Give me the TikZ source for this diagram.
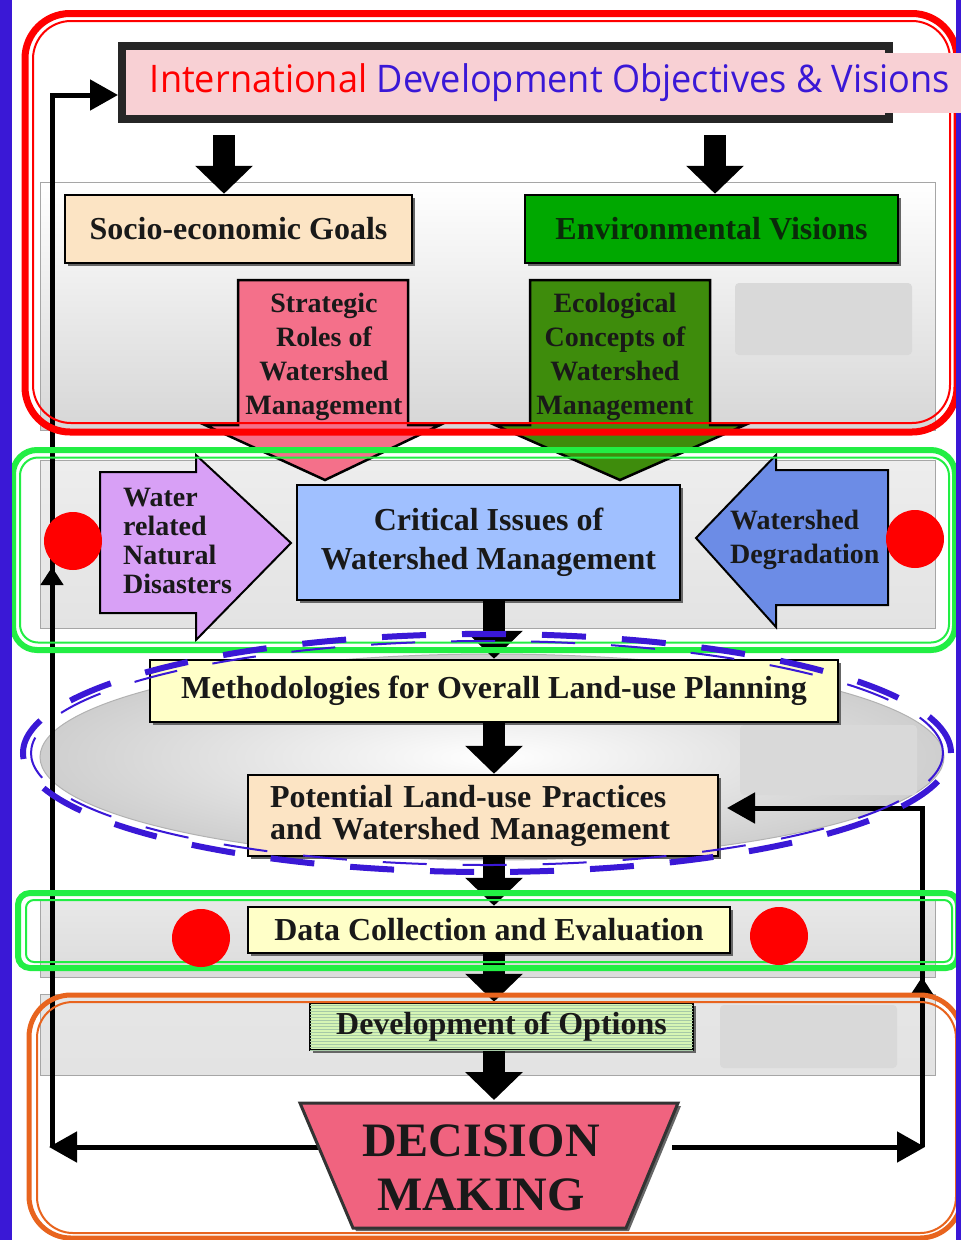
\documentclass[tikz,border=0pt]{standalone}
\usepackage{fontspec}
\setmainfont{Liberation Serif}
\newfontfamily\titlefont{Open Sans}
\usetikzlibrary{arrows.meta,shadows,patterns,calc}
\definecolor{bbar}{HTML}{3A18D6}
\definecolor{tpink}{HTML}{F8D0D4}
\definecolor{tred}{HTML}{FF0000}
\definecolor{tblue}{HTML}{3A18D6}
\definecolor{peach}{HTML}{FCE4C4}
\definecolor{envgreen}{HTML}{00A800}
\definecolor{envtext}{HTML}{0A2A0A}
\definecolor{strpink}{HTML}{F4708A}
\definecolor{ecogreen}{HTML}{3E8C0C}
\definecolor{lav}{HTML}{D8A0F6}
\definecolor{critblue}{HTML}{A0C0FF}
\definecolor{degblue}{HTML}{6C8CE6}
\definecolor{lyellow}{HTML}{FFFFC8}
\definecolor{optgreen}{HTML}{D6F5B4}
\definecolor{decpink}{HTML}{F0637F}
\definecolor{frgreen}{HTML}{22EE44}
\definecolor{frorange}{HTML}{E8641E}
\definecolor{patchgray}{HTML}{D9D9D9}
\begin{document}
\begin{tikzpicture}[x=1pt,y=-1pt,
  lab/.style 2 args={font=\bfseries\fontsize{#1}{#2}\selectfont, text=black!90},
  box/.style={draw=black, line width=2.5pt, inner sep=0pt,
    drop shadow={shadow xshift=3pt,shadow yshift=-3pt,fill=black!60,opacity=1}},
  bigarrow/.style={draw=black, line width=22pt, -{Triangle[length=28pt,width=56pt]}},
  fb/.style={draw=black, line width=5pt, line join=miter},
  fbtip/.style={-{Triangle[length=28pt,width=30pt]}},
  midtip/.style={-{Triangle[length=18pt,width=22pt]}},
  panel/.style={draw=gray!70, line width=1pt},
  patchbox/.style={fill=patchgray, rounded corners=4pt},
  blockarrow/.style={draw=black, line width=2.5pt, line join=miter},
  dot/.style={circle, fill=red, minimum size=58pt, inner sep=0pt}
]
\useasboundingbox (0,0) rectangle (961,1240);
\fill[white] (0,0) rectangle (961,1240);

% background panels
\shade[panel, top color=white, bottom color=gray!32] (40,182) rectangle (935,430);
\shade[panel, top color=gray!14, middle color=white, bottom color=gray!22] (40,460) rectangle (935,628);
\shade[draw=gray!60, line width=1pt, inner color=white, outer color=gray!38] (492,757) ellipse [x radius=452pt, y radius=103pt];
\shade[panel, top color=gray!18, middle color=gray!8, bottom color=gray!28] (40,900) rectangle (935,977);
\shade[panel, top color=gray!20, middle color=gray!8, bottom color=gray!22] (40,994) rectangle (935,1075);

% gray patches
\fill[patchbox] (735,283) rectangle (912,355);
\fill[patchbox] (740,725) rectangle (917,795);
\fill[patchbox] (720,1005) rectangle (897,1068);

% block arrows
\filldraw[blockarrow, fill=strpink] (238,280) -- (408,280) -- (408,425) -- (440,425) -- (325,480) -- (205,425) -- (238,425) -- cycle;
\node[lab={28}{34}, align=center] (strat) at (324,357) {Strategic\\Roles of\\Watershed\\Management};
\filldraw[blockarrow, fill=ecogreen] (530,280) -- (710,280) -- (710,425) -- (745,425) -- (620,480) -- (495,425) -- (530,425) -- cycle;
\node[lab={28}{34}, align=center] (eco) at (615,357) {Ecological\\Concepts of\\Watershed\\Management};
\filldraw[blockarrow, line width=2pt, fill=lav] (100,472) -- (196,472) -- (196,455) -- (291,543) -- (196,640) -- (196,613) -- (100,613) -- cycle;
\node[lab={28}{29}, align=left, anchor=west, inner sep=0pt] (water) at (123,541) {Water\\related\\Natural\\Disasters};
\filldraw[blockarrow, line width=2pt, fill=degblue] (888,470) -- (776,470) -- (776,455) -- (696,538) -- (776,627) -- (776,605) -- (888,605) -- cycle;
\node[lab={28}{34}, align=left, anchor=west, inner sep=0pt] (degr) at (730,540) {Watershed\\Degradation};

% feedback loops
\coordinate (dl) at (318,1147);
\coordinate (dr) at (672,1147);
\coordinate (L1) at (52,1147);
\coordinate (L1tip) at (49,1147);
\coordinate (L2) at (52,95);
\coordinate (tin) at (118,95);
\coordinate (R1) at (922,1147);
\coordinate (R1tip) at (925,1147);
\coordinate (R2) at (922,808);
\coordinate (pin) at (727,808);
\coordinate (Lm1) at (52,600);
\coordinate (Lm2) at (52,567);
\coordinate (Rm1) at (922,1010);
\coordinate (Rm2) at (922,977);
\draw[fb, fbtip] (L1) -- (L2) -- (tin);
\draw[fb, fbtip] (dl) -- (L1tip);
\draw[fb, midtip] (Lm1) -- (Lm2);
\draw[fb, fbtip] (R1) -- (R2) -- (pin);
\draw[fb, fbtip] (dr) -- (R1tip);
\draw[fb, midtip] (Rm1) -- (Rm2);

% title frame
\node[draw=black!85, line width=8pt, fill=tpink, minimum width=767pt, minimum height=73pt, inner sep=0pt] (titlebox) at (505.5,82.5) {};

% boxes
\node[box, fill=peach, minimum width=347pt, minimum height=68pt, lab={32}{34}] (soc) at (238.5,229) {Socio-economic Goals};
\node[box, fill=envgreen, minimum width=373pt, minimum height=68pt, lab={32}{34}, text=envtext] (env) at (711.5,229) {Environmental Visions};
\node[box, fill=critblue, minimum width=383pt, minimum height=115pt, lab={32}{39}, align=center] (crit) at (488.5,542.5) {Critical Issues of\\Watershed Management};
\node[box, fill=lyellow, minimum width=688pt, minimum height=62pt, lab={32}{34}] (meth) at (494,691) {Methodologies for Overall Land-use Planning};
\node[box, fill=peach, minimum width=470pt, minimum height=81pt, inner xsep=22pt, text width=426pt, align=left, lab={32}{32}] (pot) at (483,815.5) {Potential Land-use Practices\\and Watershed Management};
\node[box, fill=lyellow, minimum width=482pt, minimum height=46pt, lab={32}{34}] (data) at (489,930) {Data Collection and Evaluation};
\node[box, fill=optgreen, postaction={pattern=horizontal lines, pattern color=green!40!black!35}, minimum width=383pt, minimum height=47pt, lab={32}{34}] (opt) at (501.5,1026.5) {Development of Options};

% decision trapezoid
\filldraw[draw=black!80, line width=3pt, line join=miter, fill=decpink,
  drop shadow={shadow xshift=3pt,shadow yshift=-3pt,fill=black!60,opacity=1}]
  (300,1103) -- (678,1103) -- (626,1228) -- (353,1228) -- cycle;
\node[lab={48}{54}, align=center] (dec) at (481,1168) {DECISION\\MAKING};
\coordinate (dtop) at (494,1100);

% main arrows
\coordinate (a1) at (224,135);
\coordinate (a2) at (715,135);
\draw[bigarrow] (a1) -- (a1 |- soc.north);
\draw[bigarrow] (a2) -- (a2 |- env.north);
\draw[bigarrow] (crit.south -| meth.north) -- (meth.north);
\draw[bigarrow] (meth.south) -- (meth.south |- pot.north);
\draw[bigarrow] (pot.south -| meth.south) -- (data.north -| meth.south);
\draw[bigarrow] (data.south -| meth.south) -- (opt.north -| meth.south);
\draw[bigarrow] (opt.south -| meth.south) -- (dtop);

% highlight frames
\draw[red, line width=7pt, rounded corners=45pt] (25,13.5) rectangle (957,432);
\draw[red, line width=2pt, rounded corners=38pt] (33,21) rectangle (950,423);
\draw[frgreen, line width=6pt, rounded corners=24pt] (13,450) rectangle (955,650);
\draw[frgreen, line width=2pt, rounded corners=18pt] (20,457.5) rectangle (949,642.5);
\draw[bbar, line width=6pt, dash pattern=on 44pt off 36pt] (487,753) ellipse [x radius=464pt, y radius=119pt];
\draw[bbar, line width=2pt, dash pattern=on 44pt off 36pt] (487,753) ellipse [x radius=456pt, y radius=112pt];
\draw[frgreen, line width=6pt, rounded corners=12pt] (18,893) rectangle (958,968);
\draw[frgreen, line width=2pt, rounded corners=8pt] (26,900) rectangle (952,962);
\draw[frorange, line width=5pt, rounded corners=42pt] (29,995) rectangle (962,1238);
\draw[frorange, line width=2pt, rounded corners=36pt] (37,1002) rectangle (956,1233);

% red dots
\node[dot] (rd1) at (73,541) {};
\node[dot] (rd2) at (915,539) {};
\node[dot] (rd3) at (201,938) {};
\node[dot] (rd4) at (779,936) {};

% side bars
\fill[bbar] (0,0) rectangle (12,1240);
\fill[bbar] (956,0) rectangle (961,1240);

% title overlay and text
\fill[tpink] (140,53) rectangle (961,113);
\node[anchor=base, inner sep=0pt] (titletext) at (550,92) {\resizebox{800pt}{\height}{\titlefont\fontsize{38}{40}\selectfont\textcolor{tred}{International} \textcolor{tblue}{Development Objectives \& Visions}}};
\end{tikzpicture}
\end{document}
